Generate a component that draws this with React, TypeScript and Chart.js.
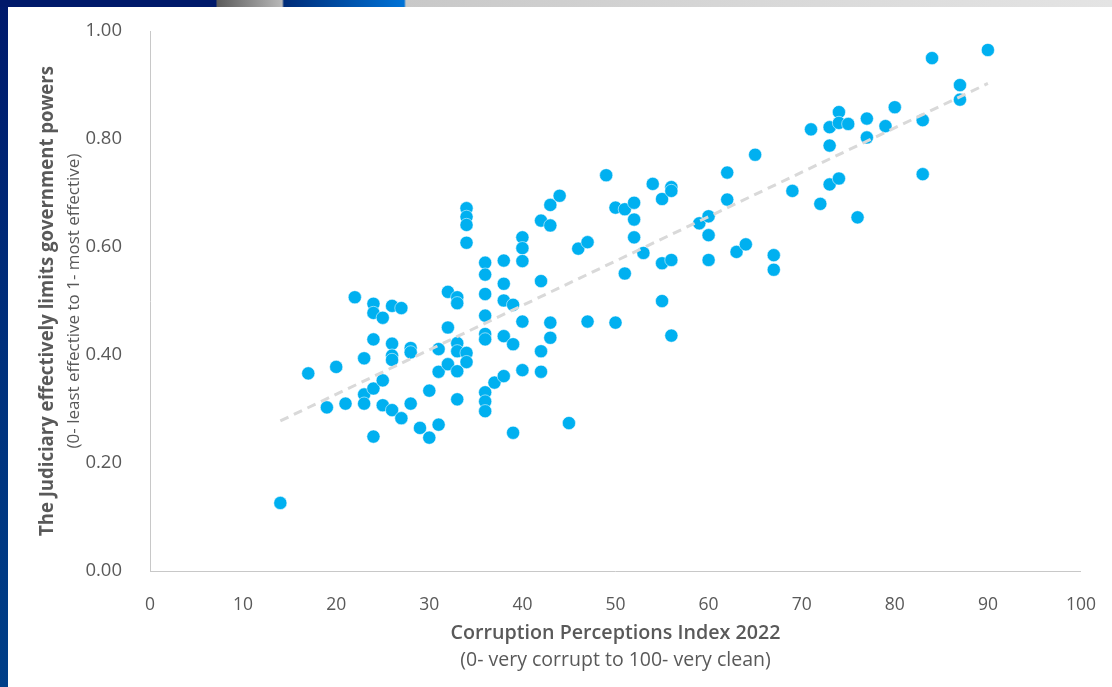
import React, { useEffect, useRef } from "react";
import { Chart, registerables } from "chart.js";

Chart.register(...registerables);

// Corruption Perceptions Index 2022 (x) vs judiciary score (y)
const cpiValues: number[] = [
  14, 17, 19, 20, 21, 22,
  23, 23, 23,
  24, 24, 24, 24, 24,
  25, 25, 25,
  26, 26, 26, 26, 26,
  27, 27,
  28, 28, 28,
  29,
  30, 30,
  31, 31, 31,
  32, 32, 32,
  33, 33, 33, 33, 33, 33,
  34, 34, 34, 34, 34, 34,
  36, 36, 36, 36, 36, 36, 36, 36, 36,
  37,
  38, 38, 38, 38, 38,
  39, 39, 39,
  40, 40, 40, 40, 40,
  42, 42, 42, 42,
  43, 43, 43, 43,
  44, 45, 46,
  47, 47,
  49,
  50, 50,
  51, 51,
  52, 52, 52,
  53, 54,
  55, 55, 55,
  56, 56, 56, 56,
  59,
  60, 60, 60,
  62, 62,
  63, 64, 65,
  67, 67,
  69, 71, 72,
  73, 73, 73,
  74, 74, 74,
  75, 76,
  77, 77,
  79, 80,
  83, 83,
  84,
  87, 87,
  90,
];

const judiciaryValues: number[] = [
  0.126, 0.366, 0.303, 0.378, 0.31, 0.507,
  0.394, 0.327, 0.31,
  0.495, 0.478, 0.429, 0.338, 0.249,
  0.469, 0.353, 0.307,
  0.491, 0.421, 0.399, 0.391, 0.298,
  0.487, 0.283,
  0.413, 0.405, 0.31,
  0.265,
  0.334, 0.247,
  0.411, 0.369, 0.271,
  0.517, 0.451, 0.383,
  0.507, 0.496, 0.422, 0.407, 0.37, 0.318,
  0.672, 0.656, 0.641, 0.608, 0.404, 0.387,
  0.571, 0.549, 0.513, 0.473, 0.439, 0.429, 0.331, 0.314, 0.296,
  0.349,
  0.575, 0.532, 0.501, 0.435, 0.361,
  0.493, 0.42, 0.256,
  0.618, 0.598, 0.574, 0.462, 0.372,
  0.649, 0.537, 0.407, 0.369,
  0.678, 0.64, 0.46, 0.432,
  0.695, 0.274, 0.597,
  0.609, 0.462,
  0.733,
  0.673, 0.46,
  0.67, 0.551,
  0.682, 0.651, 0.618,
  0.589, 0.717,
  0.689, 0.57, 0.5,
  0.711, 0.704, 0.576, 0.436,
  0.644,
  0.657, 0.622, 0.576,
  0.738, 0.688,
  0.591, 0.605, 0.771,
  0.585, 0.558,
  0.704, 0.818, 0.68,
  0.822, 0.788, 0.716,
  0.85, 0.83, 0.727,
  0.828, 0.655,
  0.838, 0.803,
  0.824, 0.859,
  0.835, 0.735,
  0.95,
  0.9, 0.873,
  0.965,
];

// Linear trendline endpoints
const trendX: number[] = [14, 90];
const trendY: number[] = [0.278, 0.903];

const xTicks: number[] = [0, 10, 20, 30, 40, 50, 60, 70, 80, 90, 100];
const yTicks: number[] = [0, 0.2, 0.4, 0.6, 0.8, 1.0];

const xTitle = "Corruption Perceptions Index 2022";
const xSubtitle = "(0- very corrupt to 100- very clean)";
const yTitle = "The Judiciary effectively limits government powers";
const ySubtitle = "(0- least effective to 1- most effective)";

const TEXT = "#595959";
const FONT = '"Open Sans", "Noto Sans", sans-serif';

const axisTitlesPlugin = {
  id: "axisTitles",
  afterDraw(chart: any) {
    const { ctx, chartArea } = chart;
    const cx = (chartArea.left + chartArea.right) / 2;
    const cy = (chartArea.top + chartArea.bottom) / 2;
    ctx.save();
    ctx.fillStyle = TEXT;
    ctx.textAlign = "center";
    ctx.textBaseline = "middle";
    ctx.font = `600 20px ${FONT}`;
    ctx.fillText(xTitle, cx, chartArea.bottom + 62, 330);
    ctx.font = `19.5px ${FONT}`;
    ctx.fillText(xSubtitle, cx, chartArea.bottom + 89, 312);
    ctx.translate(48, cy);
    ctx.rotate(-Math.PI / 2);
    ctx.font = `bold 19px ${FONT}`;
    ctx.fillText(yTitle, 0, 0, 470);
    ctx.font = `17px ${FONT}`;
    ctx.fillText(ySubtitle, 0, 26, 422);
    ctx.restore();
  },
};

export default function App() {
  const canvasRef = useRef<HTMLCanvasElement | null>(null);

  useEffect(() => {
    document.body.style.margin = "0";
    const canvas = canvasRef.current;
    if (!canvas) return;
    const points = cpiValues.map((x, i) => ({ x, y: judiciaryValues[i] }));
    const trend = trendX.map((x, i) => ({ x, y: trendY[i] }));

    const chart = new Chart(canvas, {
      type: "scatter",
      data: {
        datasets: [
          {
            type: "line",
            label: "Trend",
            data: trend,
            borderColor: "#d9d9d9",
            borderWidth: 3,
            borderDash: [9, 6],
            pointRadius: 0,
            fill: false,
            order: 0,
          } as any,
          {
            label: "Countries",
            data: points,
            backgroundColor: "#00b0f0",
            borderColor: "rgba(255,255,255,0.7)",
            borderWidth: 0.75,
            pointRadius: 6.6,
            pointHoverRadius: 6.6,
            order: 1,
          },
        ],
      },
      options: {
        animation: false,
        responsive: false,
        maintainAspectRatio: false,
        layout: { padding: { left: 0, top: 31, right: 27, bottom: 0 } },
        plugins: {
          legend: { display: false },
          tooltip: { enabled: false },
          title: { display: false },
        },
        scales: {
          x: {
            type: "linear",
            min: 0,
            max: 100,
            afterFit(scale: any) {
              scale.height = 116;
            },
            afterBuildTicks(scale: any) {
              scale.ticks = xTicks.map((v) => ({ value: v }));
            },
            grid: { display: false },
            border: { display: true, color: "#c8c8c8", width: 1 },
            ticks: {
              color: TEXT,
              font: { family: FONT, size: 17.5 },
              padding: 16,
              callback: (v: any) => String(v),
            },
          },
          y: {
            type: "linear",
            min: 0,
            max: 1,
            afterFit(scale: any) {
              scale.width = 150;
            },
            afterBuildTicks(scale: any) {
              scale.ticks = yTicks.map((v) => ({ value: v }));
            },
            grid: { display: false },
            border: { display: true, color: "#c8c8c8", width: 1 },
            ticks: {
              color: TEXT,
              font: { family: FONT, size: 18.5 },
              padding: 20,
              callback: (v: any) => Number(v).toFixed(2),
            },
          },
        },
      },
      plugins: [axisTitlesPlugin],
    });
    return () => chart.destroy();
  }, []);

  return (
    <div
      style={{
        position: "fixed",
        left: 0,
        top: 0,
        width: 1112,
        height: 687,
        background: "#ffffff",
        overflow: "hidden",
      }}
    >
      <div
        style={{
          position: "absolute",
          left: 0,
          top: 0,
          width: 8,
          height: 687,
          background: "linear-gradient(180deg, #001a6c 0%, #00307c 50%, #003f88 100%)",
        }}
      />
      <div
        style={{
          position: "absolute",
          left: 0,
          top: 0,
          width: 1112,
          height: 7,
          background:
            "linear-gradient(90deg, #00196a 0px, #00196a 216px, #5a5a5a 217px, #b8b8b8 282px, #002c78 284px, #0072d6 404px, #c8c8c8 406px, #d8d8d8 760px, #e4e4e4 1112px)",
        }}
      />
      <canvas
        ref={canvasRef}
        width={1112}
        height={687}
        style={{ position: "absolute", left: 0, top: 0, width: 1112, height: 687 }}
      />
    </div>
  );
}
